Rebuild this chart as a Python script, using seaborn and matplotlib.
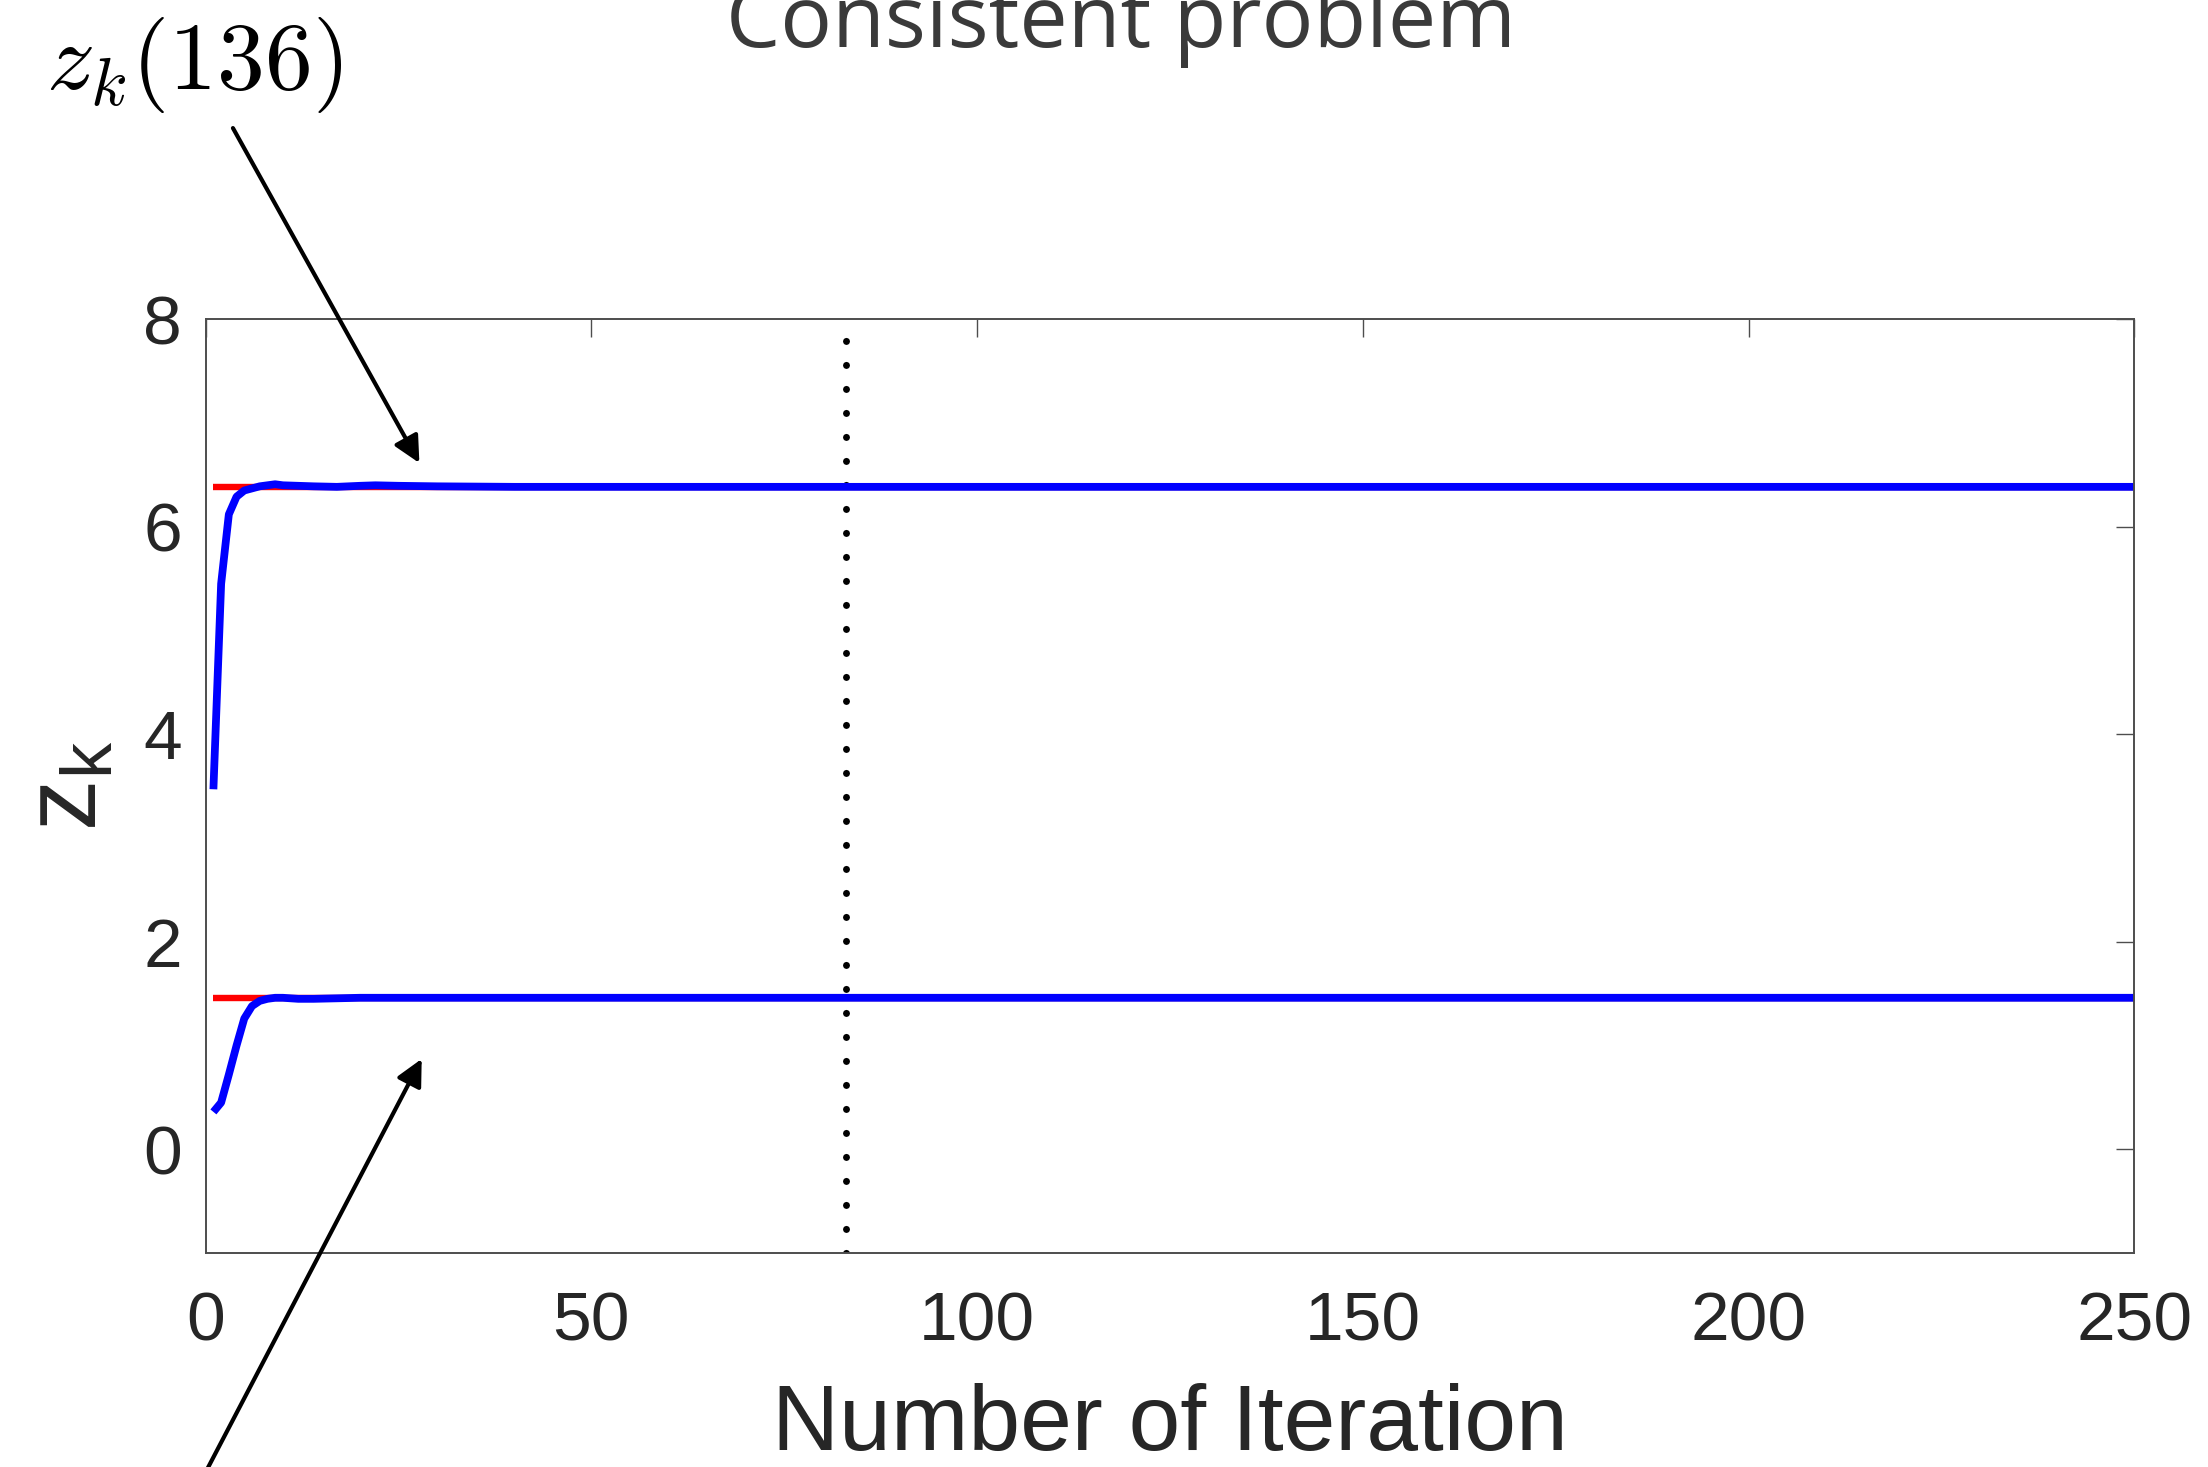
import matplotlib
matplotlib.use("Agg")
import matplotlib.pyplot as plt
import seaborn as sns
import numpy as np

# ---------------- data ----------------
iters = [1, 2, 3, 4, 5, 6, 7, 8, 9, 10, 12, 14, 17, 20, 22, 25, 30, 40, 60, 100, 150, 200, 250]
z_upper = [3.47, 5.45, 6.12, 6.29, 6.35, 6.37, 6.39, 6.40, 6.41, 6.40, 6.395, 6.39, 6.385, 6.395,
           6.40, 6.395, 6.39, 6.385, 6.385, 6.385, 6.385, 6.385, 6.385]
z_lower = [0.36, 0.45, 0.72, 1.00, 1.26, 1.38, 1.43, 1.45, 1.46, 1.46, 1.45, 1.45, 1.455, 1.46,
           1.46, 1.46, 1.46, 1.46, 1.46, 1.46, 1.46, 1.46, 1.46]
ref_x = [1, 250]
ref_upper = [6.385, 6.385]
ref_lower = [1.46, 1.46]
marker_iter = 83
xticks = [0, 50, 100, 150, 200, 250]
yticks = [0, 2, 4, 6, 8]

title_text = "Consistent problem"
xlabel_text = "Number of Iteration"
ylabel_text = r"$\mathregular{z_k}$"
annot_text = r"$z_k(136)$"

# ---------------- style ----------------
sns.set_theme(style="white")
plt.rcParams["font.family"] = ["Liberation Sans", "DejaVu Sans"]

fig = plt.figure(figsize=(22.08, 14.67), dpi=100)
fig.patch.set_facecolor("white")
ax = fig.add_axes([0.09316, 0.14588, 0.87346, 0.63646])
ax.set_facecolor("white")

sns.lineplot(x=ref_x, y=ref_upper, color="#ff0000", ax=ax)
sns.lineplot(x=ref_x, y=ref_lower, color="#ff0000", ax=ax)
sns.lineplot(x=iters, y=z_upper, color="#0000ff", ax=ax)
sns.lineplot(x=iters, y=z_lower, color="#0000ff", ax=ax)
for i, ln in enumerate(ax.lines):
    ln.set_linewidth(4.6 if i < 2 else 5.6)
    ln.set_solid_joinstyle("round")
    ln.set_solid_capstyle("butt")

ax.axvline(marker_iter, color="black", lw=5, ls=(0, (0.02, 3.436)),
           dash_capstyle="round", zorder=1)

ax.set_xlim(0, 250)
ax.set_ylim(-1, 8)
ax.set_xticks(xticks)
ax.set_yticks(yticks)

for s in ax.spines.values():
    s.set_visible(True)
    s.set_color("#4d4d4d")
    s.set_linewidth(1.4)

ax.tick_params(axis="both", direction="in", top=True, right=True, length=12.7,
               width=1.0, color="#4d4d4d", labelcolor="#262626", labelsize=50)
ax.tick_params(axis="x", pad=27)
ax.tick_params(axis="y", pad=17)

ax.set_xlabel(xlabel_text, fontsize=67, color="#262626", va="baseline")
ax.xaxis.set_label_coords(0.5, -0.211)
ax.set_ylabel(ylabel_text, fontsize=74, color="#262626")
ax.yaxis.set_label_coords(-0.045, 0.5)

fig.text(0.5077, 1 - 47 / 1467, title_text, family="Open Sans", fontsize=62,
         color="#3a3a3a", ha="center", va="baseline")

fig.text(194 / 2208, 1 - 65 / 1467, annot_text, fontsize=69, color="black",
         ha="center", va="center", math_fontfamily="cm")

arrow_kw = dict(arrowstyle="-|>,head_length=0.4,head_width=0.2", lw=3,
                color="black", mutation_scale=40, shrinkA=0, shrinkB=0)
ax.annotate("", xy=(27.7, 6.615), xycoords="data",
            xytext=(0.1055, 0.9127), textcoords="figure fraction",
            arrowprops=arrow_kw, annotation_clip=False)
ax.annotate("", xy=(28.0, 0.871), xycoords="data",
            xytext=(0.0676, -0.077), textcoords="figure fraction",
            arrowprops=arrow_kw, annotation_clip=False)

fig.savefig("out.png", dpi=100, facecolor="white")
